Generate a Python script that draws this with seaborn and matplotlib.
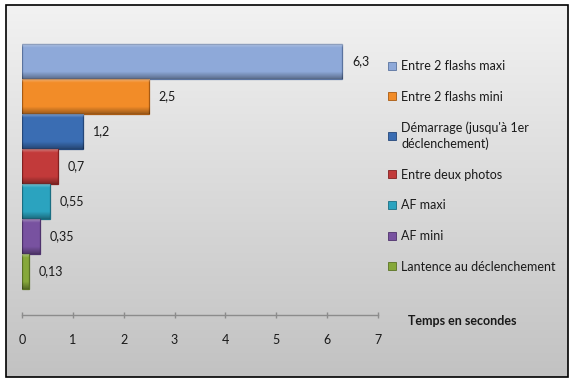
import numpy as np
import matplotlib
matplotlib.use("Agg")
import matplotlib.pyplot as plt
from matplotlib.patches import Patch, Rectangle
from matplotlib.colors import LinearSegmentedColormap
import seaborn as sns

categories = ["Entre 2 flashs maxi", "Entre 2 flashs mini",
              "Démarrage (jusqu'à 1er\ndéclenchement)", "Entre deux photos",
              "AF maxi", "AF mini", "Lantence au déclenchement"]
values = [6.3, 2.5, 1.2, 0.7, 0.55, 0.35, 0.13]
colors = ["#8EA9D9", "#F28C28", "#3A6DB3", "#C23A3A", "#2BA3BF", "#7852A0", "#86A83A"]
edges = ["#5A739F", "#A85A12", "#24477A", "#822020", "#1A6E82", "#4E326C", "#5A7324"]
xticks = [0, 1, 2, 3, 4, 5, 6, 7]
xlabel = "Temps en secondes"

sns.set_theme(style="white")
plt.rcParams['font.family'] = ['Lato', 'DejaVu Sans']

W, H = 575, 386
fig = plt.figure(figsize=(W / 100, H / 100), dpi=100)
fig.patch.set_facecolor("white")

# background gradient panel with border
bg = fig.add_axes([0, 0, 1, 1], zorder=-5)
bg.axis("off")
grad = np.linspace(0, 1, 256).reshape(-1, 1)
cmap = LinearSegmentedColormap.from_list("g", ["#F2F2F2", "#DADADA", "#C2C2C2"])
bg.imshow(grad, cmap=cmap, aspect="auto", extent=(6, 568, 377, 5), origin="upper")
bg.add_patch(Rectangle((6, 5), 562, 372, fill=False, edgecolor="black", linewidth=1.2))
bg.set_xlim(0, W)
bg.set_ylim(H, 0)

ax = fig.add_axes([22 / W, 71 / H, 356 / W, 285 / H])
ax.set_facecolor("none")
sns.barplot(x=values, y=categories, hue=categories, palette=colors, orient="h",
            width=1.0, legend=False, ax=ax, saturation=1)

ax.set_xlim(0, 7)
ax.set_ylim(6.5 + 0.74, -0.5 - 0.4)

# bevel shading derived from each bar's own geometry
shade = np.zeros((64, 1, 4))
t = np.linspace(0, 1, 64)
shade[:, 0, :3] = np.where(t[:, None] < 0.5, 1.0, 0.0)
shade[:, 0, 3] = np.where(t < 0.12, 0.45 * (1 - t / 0.12), 0) + np.where(t > 0.8, 0.35 * (t - 0.8) / 0.2, 0)
for p, ec in zip(ax.patches, edges):
    p.set_edgecolor(ec)
    p.set_linewidth(0.9)
    x0, y0, w, h = p.get_x(), p.get_y(), p.get_width(), p.get_height()
    im = ax.imshow(shade, aspect="auto", extent=(x0, x0 + w, y0 + h, y0),
                   origin="upper", zorder=p.get_zorder() + 0.1, interpolation="bilinear")
    im.set_clip_path(p)
ax.set_xlim(0, 7)
ax.set_ylim(6.5 + 0.74, -0.5 - 0.4)

for c in ax.containers:
    ax.bar_label(c, labels=[str(v).replace(".", ",") for v in c.datavalues],
                 padding=7, fontsize=9, color="#1a1a1a")

ax.set_xticks(xticks)
ax.set_xticklabels([str(t) for t in xticks])
ax.set_yticks([])
ax.set_ylabel("")
for s in ["left", "top", "right"]:
    ax.spines[s].set_visible(False)
ax.spines["bottom"].set_color("#8c8c8c")
ax.spines["bottom"].set_linewidth(1)
ax.tick_params(axis="x", direction="inout", length=5, width=1, color="#8c8c8c",
               pad=11, labelsize=9, labelcolor="#1a1a1a", bottom=True)
ax.set_xlabel(xlabel, fontsize=9, fontweight="bold", color="#1a1a1a", va="center")
ax.xaxis.set_label_coords(1.236, -0.02)

handles = [Patch(facecolor=c, edgecolor=e, linewidth=0.6) for c, e in zip(colors, edges)]
leg = fig.legend(handles, categories, loc="upper left", bbox_to_anchor=(388 / W, 1 - 60 / H),
                 frameon=False, fontsize=9, handlelength=0.6, handleheight=0.6,
                 handletextpad=0.45, labelspacing=1.5, borderpad=0, borderaxespad=0,
                 labelcolor="#1a1a1a")
for txt in leg.get_texts():
    txt.set_linespacing(1.3)

fig.savefig("out.png", dpi=100)
